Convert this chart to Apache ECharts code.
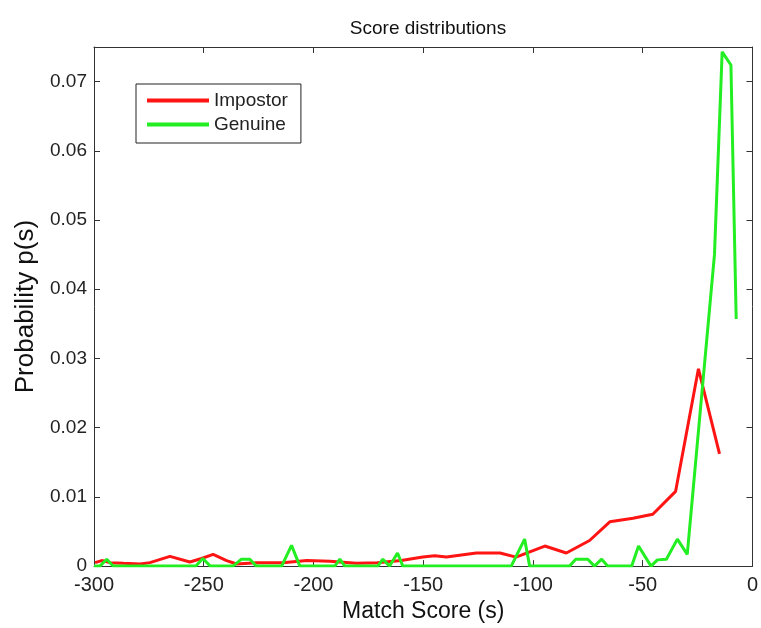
<!DOCTYPE html>
<html>
<head>
<meta charset="utf-8">
<script src="https://cdn.jsdelivr.net/npm/echarts@6/dist/echarts.min.js"></script>
<style>
html,body{margin:0;padding:0;background:#fff;}
#chart{width:761px;height:628px;}
</style>
</head>
<body>
<div id="chart"></div>
<script>
// Impostor score distribution (x = match score, y = probability)
var impostorX = [-299.5,-296.5,-292.7,-286.6,-279,-274.5,-265.4,-256.3,-251,-245.7,-239.6,-235,-226,-214,-203,-192.5,-180.5,-171,-160,-150.2,-144.8,-139.4,-125.8,-115,-107.7,-94.6,-84.8,-74.2,-65,-54.4,-45.4,-35,-24.6,-15];
var impostorY = [0.0005,0.0008,0.0005,0.0004,0.0003,0.0005,0.0014,0.0006,0.0011,0.0017,0.0008,0.0003,0.0005,0.0005,0.0008,0.0007,0.0004,0.0005,0.0008,0.0013,0.0015,0.0013,0.0019,0.0019,0.0013,0.0029,0.0019,0.0037,0.0064,0.0069,0.0075,0.0108,0.0285,0.0162];
// Genuine score distribution
var genuineX = [-300,-297.3,-294.2,-291.3,-253.6,-250.4,-247,-236.7,-232.8,-229,-226,-214.5,-210,-206.2,-190.3,-188,-185.7,-170.7,-168.4,-165.3,-161.7,-159.3,-109.9,-103.8,-101.5,-83.3,-80.5,-75,-72,-68.7,-66,-55,-51.9,-46.2,-43.3,-39.2,-34.2,-29.7,-17.3,-13.8,-9.8,-7.4];
var genuineY = [0,0,0.001,0,0,0.0011,0,0,0.001,0.001,0,0,0.003,0,0,0.001,0,0,0.001,0,0.0019,0,0,0.0039,0,0,0.001,0.001,0,0.001,0,0,0.0029,0,0.0009,0.001,0.0039,0.0017,0.045,0.0743,0.0724,0.0357];
var seriesNames = ['Impostor','Genuine'];
var xTicks = {min:-300, max:0, interval:50};
var yTicks = {min:0, max:0.075, interval:0.01};
var titleText = 'Score distributions';
var xName = 'Match Score (s)';
var yName = 'Probability p(s)';

function zip(a,b){ return a.map(function(v,i){ return [v,b[i]]; }); }

var FONT = 'Liberation Sans, Arial, sans-serif';
var chart = echarts.init(document.getElementById('chart'));
var frame = {show:true, onZero:false, lineStyle:{color:'#333', width:1}};
var tick = {show:true, inside:true, length:6, lineStyle:{color:'#333'}};
var ytf = function(v){ return v === 0 ? '0' : v.toFixed(2); };
chart.setOption({
  animation:false,
  backgroundColor:'#fff',
  title:{text:titleText, left:423, top:14, textAlign:'center',
    textStyle:{fontFamily:FONT, fontSize:19, fontWeight:'normal', color:'#111'}},
  grid:{left:94, right:8, top:47, bottom:61},
  legend:{
    data:seriesNames, orient:'vertical', left:136, top:84,
    icon:'rect', itemWidth:62, itemHeight:4, itemGap:5,
    padding:[7,13,9,11], borderColor:'#222', borderWidth:1, backgroundColor:'#fff',
    textStyle:{fontFamily:FONT, fontSize:19, color:'#222'}
  },
  xAxis:[
    {type:'value', min:xTicks.min, max:xTicks.max, interval:xTicks.interval, position:'bottom',
     name:xName, nameLocation:'middle', nameGap:27,
     nameTextStyle:{fontFamily:FONT, fontSize:23, color:'#111'},
     axisLine:frame, axisTick:tick,
     axisLabel:{fontFamily:FONT, fontSize:20, color:'#222', margin:9},
     splitLine:{show:false}},
    {type:'value', min:xTicks.min, max:xTicks.max, interval:xTicks.interval, position:'top',
     axisLine:frame, axisTick:tick,
     axisLabel:{show:false}, splitLine:{show:false}}
  ],
  yAxis:[
    {type:'value', min:yTicks.min, max:yTicks.max, interval:yTicks.interval, position:'left',
     name:yName, nameLocation:'middle', nameGap:54, nameRotate:90,
     nameTextStyle:{fontFamily:FONT, fontSize:26, color:'#111'},
     axisLine:frame, axisTick:tick,
     axisLabel:{fontFamily:FONT, fontSize:19, color:'#222', margin:7, formatter:ytf, showMaxLabel:false},
     splitLine:{show:false}},
    {type:'value', min:yTicks.min, max:yTicks.max, interval:yTicks.interval, position:'right',
     axisLine:frame, axisTick:tick,
     axisLabel:{show:false}, splitLine:{show:false}}
  ],
  series:[
    {name:seriesNames[0], type:'line', data:zip(impostorX, impostorY), showSymbol:false, symbol:'none',
     itemStyle:{color:'#ff1414'}, lineStyle:{color:'#ff1414', width:3}, z:2},
    {name:seriesNames[1], type:'line', data:zip(genuineX, genuineY), showSymbol:false, symbol:'none',
     itemStyle:{color:'#22ee22'}, lineStyle:{color:'#22ee22', width:3}, z:3}
  ]
});
</script>
</body>
</html>
